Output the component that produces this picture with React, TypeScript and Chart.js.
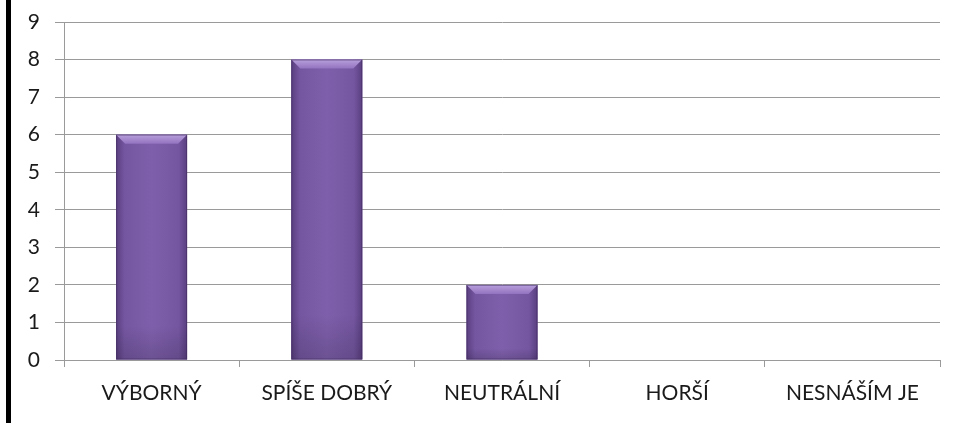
import React, { useEffect, useRef } from "react";
import { Chart, registerables } from "chart.js";

Chart.register(...registerables);

const categories = ["VÝBORNÝ", "SPÍŠE DOBRÝ", "NEUTRÁLNÍ", "HORŠÍ", "NESNÁŠÍM JE"];
const values = [6, 8, 2, 0, 0];
const yMin = 0;
const yMax = 9;

const bevelPlugin = {
  id: "bevel",
  afterDatasetsDraw(chart: any) {
    const ctx = chart.ctx;
    const meta = chart.getDatasetMeta(0);
    meta.data.forEach((bar: any) => {
      const { x, y, base, width } = bar.getProps(["x", "y", "base", "width"], true);
      const h = base - y;
      if (h <= 0.5) return;
      const l = x - width / 2;
      const r = x + width / 2;
      ctx.save();
      const g = ctx.createLinearGradient(l, 0, r, 0);
      g.addColorStop(0, "#5a3f80");
      g.addColorStop(0.12, "#7456a0");
      g.addColorStop(0.5, "#7e5fab");
      g.addColorStop(0.88, "#7456a0");
      g.addColorStop(1, "#5a3f80");
      ctx.fillStyle = g;
      ctx.fillRect(l, y, width, h);
      const v = ctx.createLinearGradient(0, y, 0, base);
      v.addColorStop(0, "rgba(0,0,0,0)");
      v.addColorStop(0.85, "rgba(0,0,0,0.0)");
      v.addColorStop(1, "rgba(0,0,0,0.14)");
      ctx.fillStyle = v;
      ctx.fillRect(l, y, width, h);
      const b = Math.min(9, h / 2);
      ctx.beginPath();
      ctx.moveTo(l, y);
      ctx.lineTo(r, y);
      ctx.lineTo(r - b, y + b);
      ctx.lineTo(l + b, y + b);
      ctx.closePath();
      const tg = ctx.createLinearGradient(0, y, 0, y + b);
      tg.addColorStop(0, "#b9a0dc");
      tg.addColorStop(1, "#9373c0");
      ctx.fillStyle = tg;
      ctx.fill();
      ctx.strokeStyle = "rgba(60,40,90,0.5)";
      ctx.lineWidth = 1;
      ctx.strokeRect(l + 0.5, y + 0.5, width - 1, h - 1);
      ctx.restore();
    });
  },
};

export default function App() {
  const ref = useRef<HTMLCanvasElement>(null);
  useEffect(() => {
    const canvas = ref.current;
    if (!canvas) return;
    const chart = new Chart(canvas, {
      type: "bar",
      data: {
        labels: categories,
        datasets: [
          {
            data: values,
            backgroundColor: "#7b5ca6",
            borderWidth: 0,
            categoryPercentage: 1,
            barPercentage: 0.405,
          },
        ],
      },
      options: {
        animation: false,
        responsive: false,
        maintainAspectRatio: false,
        layout: { padding: { top: 22, right: 15, left: 0, bottom: 0 } },
        plugins: { legend: { display: false }, tooltip: { enabled: false } },
        scales: {
          x: {
            offset: true,
            grid: {
              offset: true,
              drawOnChartArea: false,
              drawTicks: true,
              tickLength: 7,
              color: "#9a9a9a",
            },
            border: { display: true, color: "#9a9a9a", width: 1 },
            ticks: {
              color: "#1a1a1a",
              font: { family: "Lato", size: 21 },
              padding: 14,
              maxRotation: 0,
              autoSkip: false,
            },
            afterFit: (s: any) => {
              s.height = 63;
              s.paddingLeft = 0;
              s.paddingRight = 0;
            },
          },
          y: {
            min: yMin,
            max: yMax,
            grid: { color: "#9a9a9a", tickLength: 9, lineWidth: 1 },
            border: { display: true, color: "#9a9a9a", width: 1 },
            ticks: {
              stepSize: 1,
              color: "#1a1a1a",
              font: { family: "Lato", size: 21 },
              padding: 15,
            },
            afterFit: (s: any) => {
              s.width = 64;
              s.paddingTop = 0;
              s.paddingBottom = 0;
            },
          },
        },
      },
      plugins: [bevelPlugin],
    });
    return () => chart.destroy();
  }, []);
  return (
    <div style={{ position: "fixed", left: 0, top: 0, width: 955, height: 423, background: "#fff" }}>
      <div style={{ position: "absolute", left: 6, top: 0, width: 5, height: 423, background: "#000" }} />
      <canvas ref={ref} width={955} height={423} style={{ position: "absolute", left: 0, top: 0 }} />
    </div>
  );
}
